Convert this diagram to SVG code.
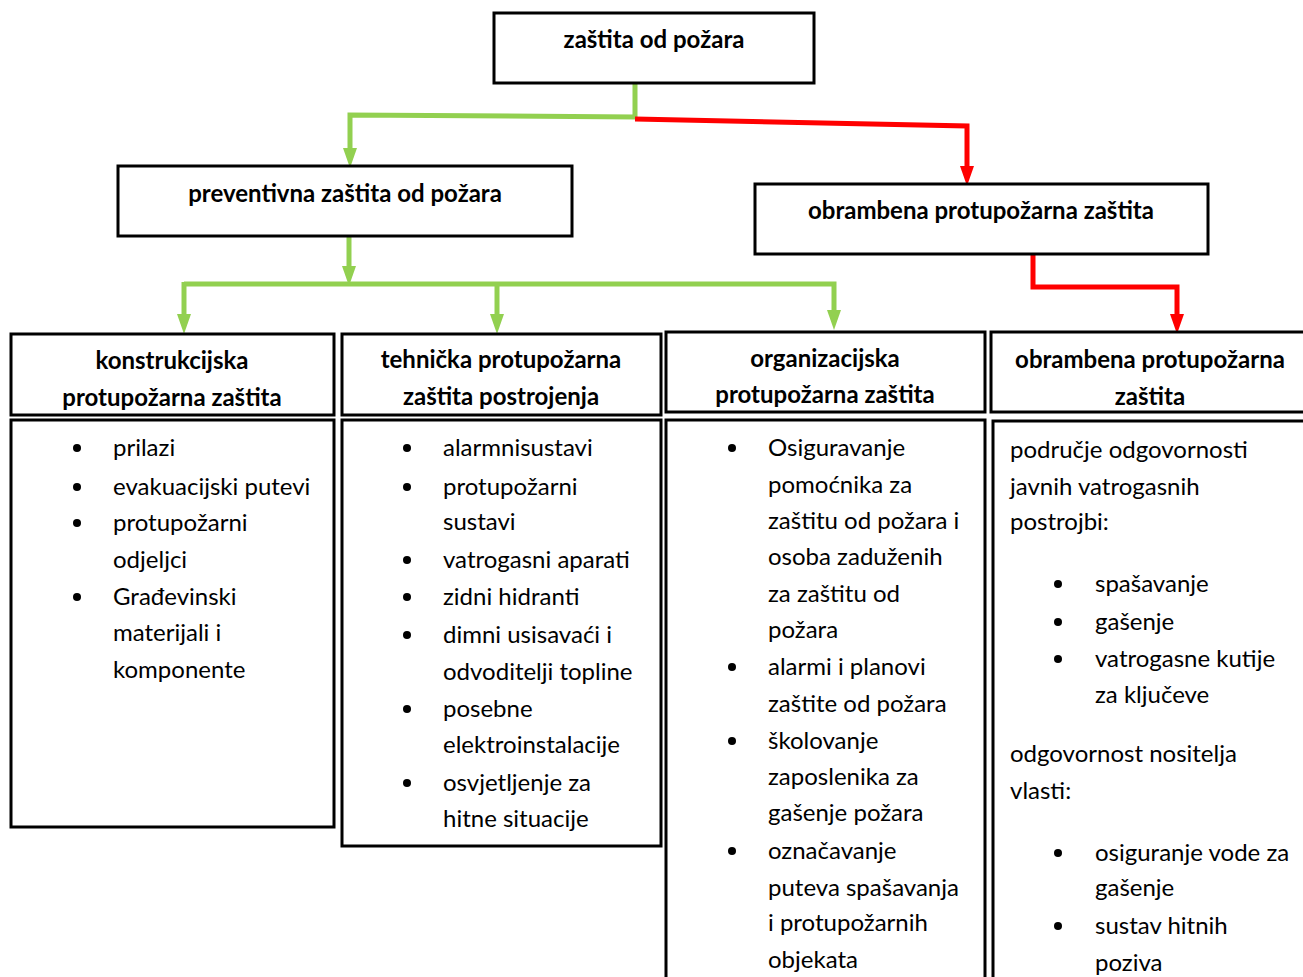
<svg xmlns="http://www.w3.org/2000/svg" width="1303" height="977" viewBox="0 0 1303 977">
<style>
.box{fill:#fff;stroke:#000;stroke-width:3}
.h{font-family:Lato,"Open Sans","Liberation Sans",sans-serif;font-weight:bold;font-size:24px;fill:#000;text-anchor:middle}
.t{font-family:Lato,"Open Sans","Liberation Sans",sans-serif;font-size:24px;fill:#000}
.g{fill:none;stroke:#92D050;stroke-width:5}
.r{fill:none;stroke:#FF0000;stroke-width:5}
</style>
<defs>
<marker id="ag" markerWidth="4" markerHeight="4" refX="2" refY="2" orient="auto" markerUnits="strokeWidth"><path d="M0,0.6 L4,2 L0,3.4 Z" fill="#92D050"/></marker>
<marker id="ar" markerWidth="4" markerHeight="4" refX="2" refY="2" orient="auto" markerUnits="strokeWidth"><path d="M0,0.6 L4,2 L0,3.4 Z" fill="#FF0000"/></marker>
</defs>
<rect width="1303" height="977" fill="#fff"/>
<g id="connectors">
<path class="g" d="M635,83 V117 L350,115 V158" marker-end="url(#ag)"/>
<path class="r" d="M635,119 L967,126 V176" marker-end="url(#ar)"/>
<path class="g" d="M349,236 V276" marker-end="url(#ag)"/>
<path class="g" d="M184,284 H834 V320" marker-end="url(#ag)"/>
<path class="g" d="M184,282 V324" marker-end="url(#ag)"/>
<path class="g" d="M497,284 V324" marker-end="url(#ag)"/>
<path class="r" d="M1033,254 V287 H1177 V324" marker-end="url(#ar)"/>
</g>
<g id="root">
<rect class="box" x="494" y="13" width="320" height="70"/>
<text class="h" x="654" y="48">zaštita od požara</text>
</g>
<g id="preventivna">
<rect class="box" x="118" y="166" width="454" height="70"/>
<text class="h" x="345" y="202">preventivna zaštita od požara</text>
</g>
<g id="obrambena">
<rect class="box" x="755" y="184" width="453" height="70"/>
<text class="h" x="981" y="219">obrambena protupožarna zaštita</text>
</g>
<g id="konstrukcijska">
<rect class="box" x="11" y="334" width="323" height="81"/>
<text class="h" x="172" y="369">konstrukcijska</text>
<text class="h" x="172" y="406">protupožarna zaštita</text>
<rect class="box" x="11" y="420" width="323" height="407"/>
<g class="t">
<circle cx="77" cy="448" r="4"/><text x="113" y="456">prilazi</text>
<circle cx="77" cy="487" r="4"/><text x="113" y="495">evakuacijski putevi</text>
<circle cx="77" cy="523" r="4"/><text x="113" y="531">protupožarni</text>
<text x="113" y="568">odjeljci</text>
<circle cx="77" cy="597" r="4"/><text x="113" y="605">Građevinski</text>
<text x="113" y="641">materijali i</text>
<text x="113" y="678">komponente</text>
</g>
</g>
<g id="tehnicka">
<rect class="box" x="342" y="334" width="319" height="81"/>
<text class="h" x="501" y="368">tehnička protupožarna</text>
<text class="h" x="501" y="405">zaštita postrojenja</text>
<rect class="box" x="342" y="420" width="319" height="426"/>
<g class="t">
<circle cx="407" cy="448" r="4"/><text x="443" y="456">alarmnisustavi</text>
<circle cx="407" cy="487" r="4"/><text x="443" y="495">protupožarni</text>
<text x="443" y="530">sustavi</text>
<circle cx="407" cy="560" r="4"/><text x="443" y="568">vatrogasni aparati</text>
<circle cx="407" cy="597" r="4"/><text x="443" y="605">zidni hidranti</text>
<circle cx="407" cy="635" r="4"/><text x="443" y="643">dimni usisavaći i</text>
<text x="443" y="680">odvoditelji topline</text>
<circle cx="407" cy="709" r="4"/><text x="443" y="717">posebne</text>
<text x="443" y="753">elektroinstalacije</text>
<circle cx="407" cy="783" r="4"/><text x="443" y="791">osvjetljenje za</text>
<text x="443" y="827">hitne situacije</text>
</g>
</g>
<g id="organizacijska">
<rect class="box" x="666" y="332" width="319" height="80"/>
<text class="h" x="825" y="367">organizacijska</text>
<text class="h" x="825" y="403">protupožarna zaštita</text>
<rect class="box" x="666" y="420" width="319" height="570"/>
<g class="t">
<circle cx="732" cy="448" r="4"/><text x="768" y="456">Osiguravanje</text>
<text x="768" y="493">pomoćnika za</text>
<text x="768" y="529">zaštitu od požara i</text>
<text x="768" y="565">osoba zaduženih</text>
<text x="768" y="602">za zaštitu od</text>
<text x="768" y="638">požara</text>
<circle cx="732" cy="667" r="4"/><text x="768" y="675">alarmi i planovi</text>
<text x="768" y="712">zaštite od požara</text>
<circle cx="732" cy="741" r="4"/><text x="768" y="749">školovanje</text>
<text x="768" y="785">zaposlenika za</text>
<text x="768" y="821">gašenje požara</text>
<circle cx="732" cy="851" r="4"/><text x="768" y="859">označavanje</text>
<text x="768" y="896">puteva spašavanja</text>
<text x="768" y="931">i protupožarnih</text>
<text x="768" y="968">objekata</text>
</g>
</g>
<g id="obrambena2">
<rect class="box" x="991" y="332" width="320" height="80"/>
<text class="h" x="1150" y="368">obrambena protupožarna</text>
<text class="h" x="1150" y="405">zaštita</text>
<rect class="box" x="993" y="421" width="318" height="570"/>
<g class="t">
<text x="1010" y="458">područje odgovornosti</text>
<text x="1010" y="495">javnih vatrogasnih</text>
<text x="1010" y="530">postrojbi:</text>
<circle cx="1058" cy="584" r="4"/><text x="1095" y="592">spašavanje</text>
<circle cx="1058" cy="622" r="4"/><text x="1095" y="630">gašenje</text>
<circle cx="1058" cy="659" r="4"/><text x="1095" y="667">vatrogasne kutije</text>
<text x="1095" y="703">za ključeve</text>
<text x="1010" y="762">odgovornost nositelja</text>
<text x="1010" y="799">vlasti:</text>
<circle cx="1058" cy="853" r="4"/><text x="1095" y="861">osiguranje vode za</text>
<text x="1095" y="896">gašenje</text>
<circle cx="1058" cy="926" r="4"/><text x="1095" y="934">sustav hitnih</text>
<text x="1095" y="971">poziva</text>
</g>
</g>
</svg>
